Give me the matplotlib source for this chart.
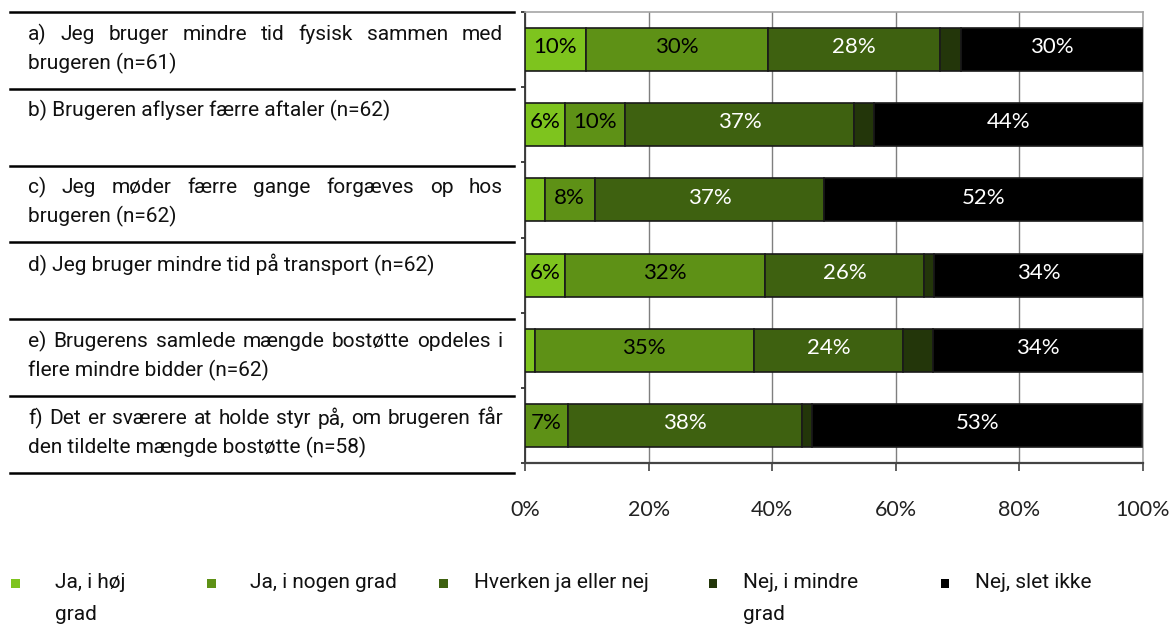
import matplotlib
matplotlib.use("Agg")
import matplotlib.pyplot as plt
import numpy as np
from matplotlib.patches import Rectangle
from matplotlib.lines import Line2D

# ---------------- data ----------------
categories = [
    "a) Jeg bruger mindre tid fysisk sammen med\nbrugeren (n=61)",
    "b) Brugeren aflyser færre aftaler (n=62)",
    "c) Jeg møder færre gange forgæves op hos\nbrugeren (n=62)",
    "d) Jeg bruger mindre tid på transport (n=62)",
    "e) Brugerens samlede mængde bostøtte opdeles i\nflere mindre bidder (n=62)",
    "f) Det er sværere at holde styr på, om brugeren får\nden tildelte mængde bostøtte (n=58)",
]
series_names = ["Ja, i høj\ngrad", "Ja, i nogen grad", "Hverken ja eller nej",
                "Nej, i mindre\ngrad", "Nej, slet ikke"]
ja_hoej = [9.8, 6.5, 3.2, 6.5, 1.6, 0.0]
ja_nogen = [29.5, 9.7, 8.1, 32.3, 35.4, 6.9]
hverken = [27.9, 37.1, 37.1, 25.8, 24.2, 37.9]
nej_mindre = [3.3, 3.2, 0.0, 1.6, 4.8, 1.7]
nej_slet = [29.5, 43.5, 51.6, 33.9, 34.0, 53.4]
x_ticks = [0, 20, 40, 60, 80, 100]
x_tick_labels = ["0%", "20%", "40%", "60%", "80%", "100%"]

series_values = [ja_hoej, ja_nogen, hverken, nej_mindre, nej_slet]
colors = ["#7ec41e", "#5e9116", "#3e6110", "#23360a", "#000000"]
text_colors = ["black", "black", "white", "white", "white"]

# ---------------- figure ----------------
W, H = 1174, 626
fig = plt.figure(figsize=(W / 100, H / 100), dpi=100)


def fx(px):
    return px / W


def fy(py):
    return 1 - py / H


LABEL_FONT = "Roboto"
NUM_FONT = "Lato"

ax = fig.add_axes([fx(525), fy(463), 618 / W, 451 / H])
n = len(categories)
ypos = np.arange(n)
left = np.zeros(n)
for vals, col, tc in zip(series_values, colors, text_colors):
    vals = np.array(vals, dtype=float)
    ax.barh(ypos, vals, left=left, height=0.57, color=col,
            edgecolor="#1a1a1a", linewidth=1.2, zorder=3)
    for j, (v, l) in enumerate(zip(vals, left)):
        if v >= 5.5:
            ax.text(l + v / 2, j - 0.03, f"{v:.0f}%", ha="center", va="center",
                    color=tc, fontsize=16, family=NUM_FONT, zorder=4)
    left += vals

ax.set_xlim(0, 100)
ax.set_ylim(n - 0.5, -0.5)
ax.set_xticks(x_ticks)
ax.set_xticklabels(x_tick_labels, fontsize=15.5, family=NUM_FONT, color="#222222")
ax.tick_params(axis="x", direction="out", length=6, width=1.2, color="#444444", pad=21)
ax.set_yticks(np.arange(-0.5, n, 1.0))
ax.set_yticklabels([])
ax.tick_params(axis="y", direction="out", length=3, width=1.2, color="#222222")
ax.xaxis.grid(True, color="#7f7f7f", linewidth=1.0, zorder=0)
ax.set_axisbelow(True)
for s in ["top", "right"]:
    ax.spines[s].set_color("#a6a6a6")
    ax.spines[s].set_linewidth(1.2)
ax.spines["left"].set_color("#333333")
ax.spines["left"].set_linewidth(1.3)
ax.spines["bottom"].set_color("#444444")
ax.spines["bottom"].set_linewidth(1.6)

# ---------------- left table ----------------
line_y = [12 + k * 76.8 for k in range(n + 1)]
for yy in line_y:
    fig.add_artist(Line2D([fx(10), fx(514)], [fy(yy), fy(yy)],
                          transform=fig.transFigure, color="black", linewidth=1.8))

fig.canvas.draw()
renderer = fig.canvas.get_renderer()
FS = 15
X0, X1 = 28, 503


def draw_justified(line, ypx):
    words = line.split(" ")
    ts = [fig.text(0, 0, w, fontsize=FS, family=LABEL_FONT, color="#111111") for w in words]
    widths = [t.get_window_extent(renderer).width for t in ts]
    gap = (X1 - X0 - sum(widths)) / max(len(words) - 1, 1)
    x = X0
    for t, w in zip(ts, widths):
        t.set_position((fx(x), fy(ypx)))
        t.set_va("center")
        x += w + gap


for k, cat in enumerate(categories):
    lines = cat.split("\n")
    y1 = line_y[k] + 22
    if len(lines) > 1:
        draw_justified(lines[0], y1)
        fig.text(fx(X0), fy(y1 + 29), lines[1], fontsize=FS, family=LABEL_FONT,
                 va="center", color="#111111")
    else:
        fig.text(fx(X0), fy(y1), lines[0], fontsize=FS, family=LABEL_FONT,
                 va="center", color="#111111")

# ---------------- legend ----------------
marker_x = [15, 211, 443, 713, 945]
text_x = [55, 250, 474, 743, 975]
LEG_Y = 583
for name, col, mx, tx in zip(series_names, colors, marker_x, text_x):
    fig.add_artist(Rectangle((fx(mx - 4.5), fy(LEG_Y + 4.5)), 9 / W, 9 / H,
                             transform=fig.transFigure, facecolor=col, edgecolor="none"))
    for li, part in enumerate(name.split("\n")):
        fig.text(fx(tx), fy(LEG_Y + li * 32), part, fontsize=FS, family=LABEL_FONT,
                 va="center", color="#111111")

fig.savefig("out.png", dpi=100)
